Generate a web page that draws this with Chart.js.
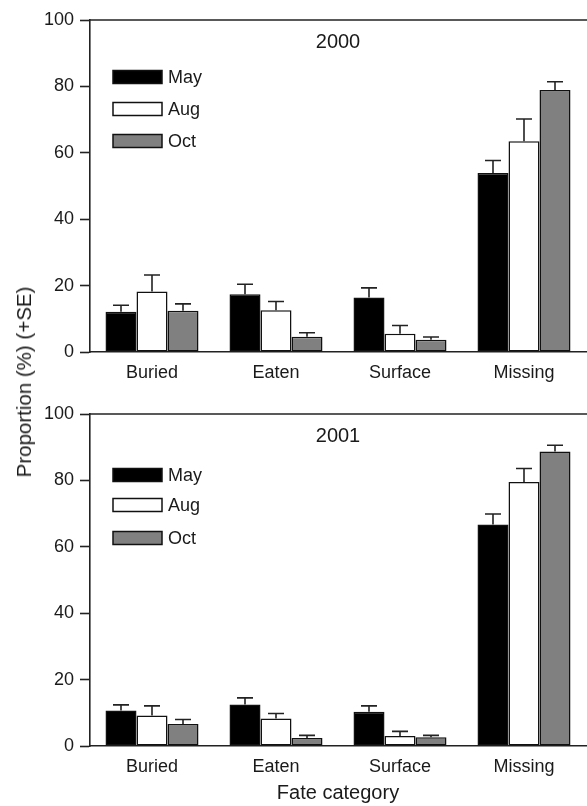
<!DOCTYPE html>
<html>
<head>
<meta charset="utf-8">
<script src="https://cdn.jsdelivr.net/npm/chart.js@4.4.0/dist/chart.umd.min.js"></script>
<style>
    html, body { margin: 0; padding: 0; background: #fff; }
    #wrap { position: relative; width: 587px; height: 806px; font-family: "Liberation Sans", Arial, sans-serif; }
    canvas { position: absolute; left: 0; }
    #c2000 { top: 0; }
    #c2001 { top: 380px; }
    #ylab {
        position: absolute; left: 24px; top: 382px;
        transform: translate(-50%, -50%) rotate(-90deg);
        white-space: nowrap; font-size: 20.5px; color: #1a1a1a;
    }
</style>
</head>
<body>
<div id="wrap">
    <canvas id="c2000" width="587" height="396"></canvas>
    <canvas id="c2001" width="587" height="426"></canvas>
    <div id="ylab">Proportion (%) (+SE)</div>
</div>
<script>
var categorias = ['Buried', 'Eaten', 'Surface', 'Missing'];
var meses = ['May', 'Aug', 'Oct'];
var yTicks = [0, 20, 40, 60, 80, 100];

// 2000
var may2000 = [12.1, 17.4, 16.4, 53.9];
var aug2000 = [18.2, 12.6, 5.5, 63.5];
var oct2000 = [12.4, 4.6, 3.7, 78.9];
var seMay2000 = [2.0, 3.0, 2.9, 3.8];
var seAug2000 = [5.0, 2.6, 2.5, 6.7];
var seOct2000 = [2.1, 1.2, 0.8, 2.5];

// 2001
var may2001 = [10.7, 12.5, 10.3, 66.7];
var aug2001 = [9.2, 8.3, 3.0, 79.5];
var oct2001 = [6.6, 2.4, 2.6, 88.7];
var seMay2001 = [1.7, 2.0, 1.8, 3.2];
var seAug2001 = [2.9, 1.5, 1.4, 4.1];
var seOct2001 = [1.4, 0.8, 0.6, 1.9];

var cores = ['#000000', '#ffffff', '#808080'];
var FONT = '"Liberation Sans", Arial, sans-serif';
var INK = '#1a1a1a';

// error bars, top frame line, year label and legend inside the plot
var extras = {
    id: 'extras',
    afterDatasetsDraw: function (chart, args, opts) {
        var ctx = chart.ctx, y = chart.scales.y, area = chart.chartArea;
        ctx.save();
        ctx.strokeStyle = '#222';
        ctx.lineWidth = 1.6;
        chart.data.datasets.forEach(function (ds, i) {
            chart.getDatasetMeta(i).data.forEach(function (bar, j) {
                var top = y.getPixelForValue(ds.data[j] + ds.se[j]);
                ctx.beginPath();
                ctx.moveTo(bar.x, bar.y);
                ctx.lineTo(bar.x, top);
                ctx.moveTo(bar.x - 8, top);
                ctx.lineTo(bar.x + 8, top);
                ctx.stroke();
            });
        });

        ctx.beginPath();
        ctx.moveTo(area.left, area.top);
        ctx.lineTo(chart.width, area.top);
        ctx.stroke();

        ctx.fillStyle = INK;
        ctx.font = '20px ' + FONT;
        ctx.textAlign = 'center';
        ctx.textBaseline = 'middle';
        ctx.fillText(opts.ano, (area.left + area.right) / 2, area.top + 22);

        ctx.font = '18px ' + FONT;
        ctx.textAlign = 'left';
        chart.data.datasets.forEach(function (ds, i) {
            var cy = area.top + opts.linhas[i];
            ctx.fillStyle = ds.backgroundColor;
            ctx.fillRect(area.left + 23, cy - 6.5, 49, 13);
            ctx.lineWidth = 1.5;
            ctx.strokeStyle = '#111';
            ctx.strokeRect(area.left + 23, cy - 6.5, 49, 13);
            ctx.fillStyle = INK;
            ctx.fillText(ds.label, area.left + 78, cy + 1);
        });
        ctx.restore();
    }
};

function makeChart(id, ano, series, erros, cfg) {
    var datasets = series.map(function (s, i) {
        return {
            label: meses[i],
            data: s,
            se: erros[i],
            backgroundColor: cores[i],
            borderColor: '#111',
            borderWidth: 1.5,
            borderSkipped: false,
            categoryPercentage: 0.75,
            barPercentage: 1.0
        };
    });

    return new Chart(document.getElementById(id), {
        type: 'bar',
        data: { labels: categorias, datasets: datasets },
        plugins: [extras],
        options: {
            responsive: false,
            maintainAspectRatio: false,
            animation: false,
            devicePixelRatio: 1,
            layout: { padding: { top: cfg.top, right: 1, left: 0, bottom: 0 } },
            plugins: {
                legend: { display: false },
                tooltip: { enabled: false },
                extras: { ano: ano, linhas: cfg.linhas }
            },
            scales: {
                x: {
                    grid: { display: false, drawTicks: false },
                    border: { display: true, color: '#222', width: 1.6 },
                    ticks: { color: INK, font: { family: FONT, size: 18 }, padding: 10, maxRotation: 0 },
                    title: {
                        display: cfg.xTitle,
                        text: 'Fate category',
                        color: INK,
                        font: { family: FONT, size: 20 },
                        padding: { top: 0, bottom: 1 }
                    },
                    afterFit: function (scale) { scale.height = cfg.xHeight; }
                },
                y: {
                    min: 0,
                    max: 100,
                    afterBuildTicks: function (scale) {
                        scale.ticks = yTicks.map(function (v) { return { value: v }; });
                    },
                    grid: { drawOnChartArea: false, drawTicks: true, tickLength: 10, tickColor: '#222', tickWidth: 1.6 },
                    border: { display: true, color: '#222', width: 1.6 },
                    ticks: { color: INK, font: { family: FONT, size: 18 }, padding: 6 },
                    afterFit: function (scale) { scale.width = 90; }
                }
            }
        }
    });
}

makeChart('c2000', '2000',
    [may2000, aug2000, oct2000],
    [seMay2000, seAug2000, seOct2000],
    { top: 20, xHeight: 44, xTitle: false, linhas: [57, 89, 121] });

makeChart('c2001', '2001',
    [may2001, aug2001, oct2001],
    [seMay2001, seAug2001, seOct2001],
    { top: 34, xHeight: 60, xTitle: true, linhas: [61, 91, 124] });
</script>
</body>
</html>
